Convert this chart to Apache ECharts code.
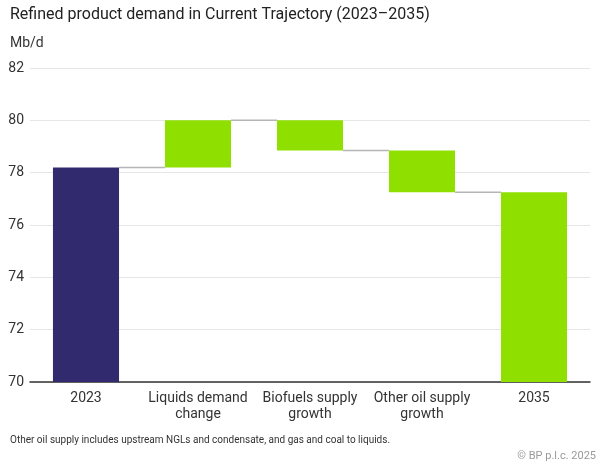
<!DOCTYPE html>
<html>
<head>
<meta charset="utf-8">
<script src="https://cdn.jsdelivr.net/npm/echarts@6/dist/echarts.min.js"></script>
<style>
  html, body { margin: 0; padding: 0; background: #fff; }
  #chart { width: 600px; height: 465px; }
</style>
</head>
<body>
<div id="chart"></div>
<script>
// Waterfall data (Mb/d)
const categories = ['2023', 'Liquids demand\nchange', 'Biofuels supply\ngrowth', 'Other oil supply\ngrowth', '2035'];
const starts = [0, 78.2, 80.0, 78.85, 0];
const ends = [78.2, 80.0, 78.85, 77.25, 77.25];
const yTicks = [70, 72, 74, 76, 78, 80, 82];

const NAVY = '#312a6f';
const GREEN = '#8fdf00';
const BAR_RATIO = 0.59;

const baseValues = starts.map((s, i) => Math.min(s, ends[i]));
const barValues = starts.map((s, i) => Math.abs(ends[i] - s));
const barColors = categories.map((c, i) => (i === 0 ? NAVY : GREEN));
// connector from the end of each bar to the next one
const connectors = ends.slice(0, -1).map((v, i) => [i, v]);

const chart = echarts.init(document.getElementById('chart'), null, { renderer: 'canvas' });

chart.setOption({
  animation: false,
  textStyle: { fontFamily: 'Roboto' },
  title: [
    {
      text: 'Refined product demand in Current Trajectory (2023\u20132035)',
      left: 10,
      top: 7,
      padding: 0,
      textStyle: { fontSize: 16, fontWeight: 'normal', color: '#222', fontFamily: 'Roboto' },
    },
    {
      text: 'Mb/d',
      left: 10,
      top: 36,
      padding: 0,
      textStyle: { fontSize: 14, fontWeight: 'normal', color: '#333', fontFamily: 'Roboto' },
    },
    {
      text: 'Other oil supply includes upstream NGLs and condensate, and gas and coal to liquids.',
      left: 10,
      top: 435,
      padding: 0,
      textStyle: { fontSize: 10, fontWeight: 'normal', color: '#333', fontFamily: 'Roboto' },
    },
    {
      text: '\u00a9 BP p.l.c. 2025',
      right: 4,
      top: 451,
      padding: 0,
      textStyle: { fontSize: 11, fontWeight: 'normal', color: '#999', fontFamily: 'Roboto' },
    },
  ],
  grid: { left: 30, right: 10, top: 68, bottom: 83, containLabel: false },
  xAxis: {
    type: 'category',
    data: categories,
    axisLine: { show: true, lineStyle: { color: '#333', width: 1.5 } },
    axisTick: { show: false },
    axisLabel: { fontSize: 14, color: '#333', lineHeight: 16, margin: 8, interval: 0 },
  },
  yAxis: {
    type: 'value',
    min: yTicks[0],
    max: yTicks[yTicks.length - 1],
    interval: 2,
    axisLine: { show: false },
    axisTick: { show: false },
    axisLabel: { fontSize: 14, color: '#333', margin: 6 },
    splitLine: { lineStyle: { color: '#e6e6e6', width: 1 } },
  },
  series: [
    {
      name: 'base',
      type: 'bar',
      stack: 'wf',
      barWidth: (BAR_RATIO * 100) + '%',
      itemStyle: { color: 'transparent' },
      data: baseValues,
      silent: true,
    },
    {
      name: 'value',
      type: 'bar',
      stack: 'wf',
      barWidth: (BAR_RATIO * 100) + '%',
      data: barValues.map((v, i) => ({ value: v, itemStyle: { color: barColors[i] } })),
    },
    {
      name: 'connectors',
      type: 'custom',
      silent: true,
      z: 1,
      data: connectors,
      renderItem: function (params, api) {
        const p = api.coord([api.value(0), api.value(1)]);
        const band = api.size([1, 0])[0];
        const half = band * BAR_RATIO / 2;
        return {
          type: 'line',
          shape: { x1: p[0] + half, y1: p[1], x2: p[0] + band - half, y2: p[1] },
          style: { stroke: '#b5b5b5', lineWidth: 1.5 },
        };
      },
    },
  ],
});
</script>
</body>
</html>
